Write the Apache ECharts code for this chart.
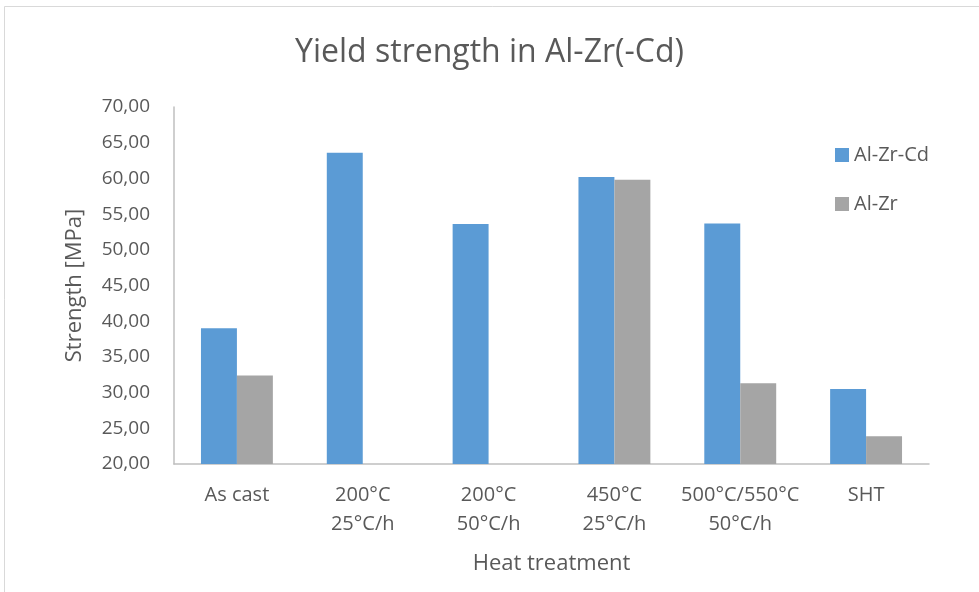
<!DOCTYPE html>
<html><head><meta charset="utf-8">
<script src="https://cdn.jsdelivr.net/npm/echarts@6/dist/echarts.min.js"></script>
<style>html,body{margin:0;padding:0;background:#fff}#c{width:979px;height:592px}</style>
</head><body><div id="c"></div>
<script>
const categories = ['As cast', '200°C\n25°C/h', '200°C\n50°C/h', '450°C\n25°C/h', '500°C/550°C\n50°C/h', 'SHT'];
const alZrCd = [39.0, 63.6, 53.6, 60.2, 53.7, 30.5];
const alZr = [32.4, null, null, 59.8, 31.3, 23.9];
const seriesNames = ['Al-Zr-Cd', 'Al-Zr'];
const yTicks = {min: 20, max: 70, interval: 5};

const font = '"Open Sans", "Noto Sans", sans-serif';
const txt = '#595959';
const chart = echarts.init(document.getElementById('c'));
chart.setOption({
  animation: false,
  backgroundColor: '#fff',
  graphic: [{type: 'rect', shape: {x: 4.5, y: 6.5, width: 1000, height: 600}, style: {fill: 'none', stroke: '#D9D9D9', lineWidth: 1}, silent: true}],
  title: {text: 'Yield strength in Al-Zr(-Cd)', left: 'center', top: 32,
    textStyle: {fontFamily: font, fontSize: 32, fontWeight: 'normal', color: txt}},
  legend: {orient: 'vertical', left: 835, top: 145, padding: 0, itemGap: 29, itemWidth: 14, itemHeight: 14,
    icon: 'rect', textStyle: {fontFamily: font, fontSize: 20, lineHeight: 20, color: txt}, data: seriesNames},
  grid: {left: 174, right: 50, top: 107, bottom: 128, containLabel: false},
  xAxis: {type: 'category', data: categories,
    name: 'Heat treatment', nameLocation: 'middle', nameGap: 89,
    nameTextStyle: {fontFamily: font, fontSize: 22, color: txt},
    axisLine: {lineStyle: {color: '#BFBFBF', width: 1.5}}, axisTick: {show: false},
    axisLabel: {fontFamily: font, fontSize: 20, color: txt, margin: 17, lineHeight: 29, interval: 0}},
  yAxis: {type: 'value', min: yTicks.min, max: yTicks.max, interval: yTicks.interval,
    name: 'Strength [MPa]', nameLocation: 'middle', nameGap: 88,
    nameTextStyle: {fontFamily: font, fontSize: 22, color: txt},
    axisLine: {show: true, lineStyle: {color: '#BFBFBF', width: 1.5}}, axisTick: {show: false},
    splitLine: {show: false},
    axisLabel: {fontFamily: font, fontSize: 19, color: txt, margin: 24,
      formatter: v => v.toFixed(2).replace('.', ',')}},
  series: [
    {name: seriesNames[0], type: 'bar', data: alZrCd, barGap: 0, barCategoryGap: '42.86%',
      itemStyle: {color: '#5B9BD5'}},
    {name: seriesNames[1], type: 'bar', data: alZr, barGap: 0, barCategoryGap: '42.86%',
      itemStyle: {color: '#A5A5A5'}}
  ]
});
</script></body></html>
